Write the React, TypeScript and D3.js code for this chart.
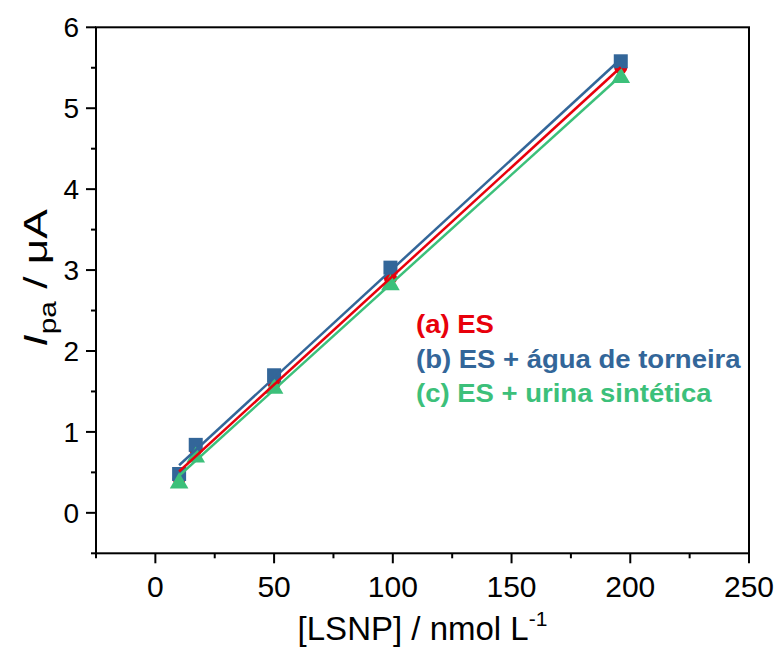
import React from "react";
import * as d3 from "d3";

const concentrations = [10, 17, 50, 99, 196];
const esValues = [0.42, 0.78, 1.6, 2.9, 5.5];
const tapWaterValues = [0.48, 0.84, 1.7, 3.03, 5.58];
const urineValues = [0.38, 0.7, 1.55, 2.83, 5.39];

const seriesNames = ["(a) ES", "(b) ES + água de torneira", "(c) ES + urina sintética"];
const seriesColors = ["#E8000B", "#336699", "#3CC07A"];
const seriesShapes = ["circle", "square", "triangle"];

const xTicks = [0, 50, 100, 150, 200, 250];
const xMinorTicks = [-25, 25, 75, 125, 175, 225];
const yTicks = [0, 1, 2, 3, 4, 5, 6];
const yMinorTicks = [-0.5, 0.5, 1.5, 2.5, 3.5, 4.5, 5.5];

const W = 777;
const H = 647;
const left = 96;
const right = 749;
const top = 27.3;
const bottom = 553.3;

function fit(xs: number[], ys: number[]) {
  const mx = d3.mean(xs)!;
  const my = d3.mean(ys)!;
  let num = 0;
  let den = 0;
  xs.forEach((x, i) => {
    num += (x - mx) * (ys[i] - my);
    den += (x - mx) * (x - mx);
  });
  const slope = num / den;
  return { slope, intercept: my - slope * mx };
}

export default function App() {
  const x = d3.scaleLinear().domain([-25, 250]).range([left, right]);
  const y = d3.scaleLinear().domain([-0.5, 6]).range([bottom, top]);
  const allSeries = [esValues, tapWaterValues, urineValues];
  const font = "Arial, 'Liberation Sans', sans-serif";

  const marker = (shape: string, cx: number, cy: number, color: string, key: string) => {
    if (shape === "circle") return <circle key={key} cx={cx} cy={cy} r={6.5} fill={color} />;
    if (shape === "square") return <rect key={key} x={cx - 7} y={cy - 7} width={14} height={14} fill={color} />;
    const tri = d3.symbol(d3.symbolTriangle, 150)();
    return <path key={key} d={tri as string} transform={`translate(${cx},${cy + 1})`} fill={color} />;
  };

  const lineGen = d3.line<[number, number]>().x((d) => x(d[0])).y((d) => y(d[1]));

  return (
    <svg width={W} height={H} style={{ position: "absolute", left: 0, top: 0, background: "#fff" }} fontFamily={font}>
      <rect x={0} y={0} width={W} height={H} fill="#fff" />
      {allSeries.map((vals, si) => (
        <g key={"m" + si}>
          {vals.map((v, i) => marker(seriesShapes[si], x(concentrations[i]), y(v), seriesColors[si], `${si}-${i}`))}
        </g>
      ))}
      {allSeries.map((vals, si) => {
        const f = fit(concentrations, vals);
        const x0 = concentrations[0];
        const x1 = concentrations[concentrations.length - 1];
        const pts: [number, number][] = [
          [x0, f.intercept + f.slope * x0],
          [x1, f.intercept + f.slope * x1],
        ];
        return <path key={"l" + si} d={lineGen(pts) as string} stroke={seriesColors[si]} strokeWidth={2.5} fill="none" />;
      })}
      <rect x={left} y={top} width={right - left} height={bottom - top} fill="none" stroke="#000" strokeWidth={2} />
      {xTicks.map((t) => (
        <g key={"xt" + t}>
          <line x1={x(t)} x2={x(t)} y1={bottom} y2={bottom + 10} stroke="#000" strokeWidth={2} />
          <text x={x(t)} y={597} textAnchor="middle" fontSize={30}>{t}</text>
        </g>
      ))}
      {xMinorTicks.map((t) => (
        <line key={"xm" + t} x1={x(t)} x2={x(t)} y1={bottom} y2={bottom + 5} stroke="#000" strokeWidth={2} />
      ))}
      {yTicks.map((t) => (
        <g key={"yt" + t}>
          <line x1={left - 10} x2={left} y1={y(t)} y2={y(t)} stroke="#000" strokeWidth={2} />
          <text x={79} y={y(t) + 10} textAnchor="end" fontSize={28}>{t}</text>
        </g>
      ))}
      {yMinorTicks.map((t) => (
        <line key={"ym" + t} x1={left - 5} x2={left} y1={y(t)} y2={y(t)} stroke="#000" strokeWidth={2} />
      ))}
      <text x={(left + right) / 2} y={640} textAnchor="middle" fontSize={33}>
        [LSNP] / nmol L<tspan dy={-14} fontSize={21}>-1</tspan>
      </text>
      <text transform={`translate(47, 278) rotate(-90) scale(1.3, 1)`} textAnchor="middle" fontSize={34}>
        <tspan fontStyle="italic">I</tspan>
        <tspan dy={9} fontSize={23}>pa</tspan>
        <tspan dy={-9}> / μA</tspan>
      </text>
      {seriesNames.map((n, i) => (
        <text key={"lg" + i} transform={`translate(416, ${333 + i * 34.5}) scale(1.1, 1)`} fontSize={25} fontWeight="bold" fill={seriesColors[i]}>
          {n}
        </text>
      ))}
    </svg>
  );
}
